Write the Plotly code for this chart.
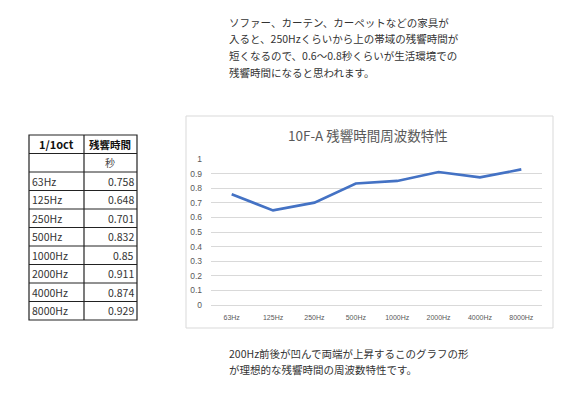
import plotly.graph_objects as go

# ---- data ----
bands = ["63Hz", "125Hz", "250Hz", "500Hz", "1000Hz", "2000Hz", "4000Hz", "8000Hz"]
table_bands = ["63Hz", "125Hz", "250Hz", "500Hz", "1000Hz", "2000Hz", "4000Hz", "8000Hz"]
rt_values = [0.758, 0.648, 0.701, 0.832, 0.85, 0.911, 0.874, 0.929]
rt_labels = ["0.758", "0.648", "0.701", "0.832", "0.85", "0.911", "0.874", "0.929"]
table_header = ["1/1oct", "残響時間"]
unit_label = "秒"
chart_title = "10F-A 残響時間周波数特性"
top_text = ["ソファー、カーテン、カーペットなどの家具が",
            "入ると、250Hzくらいから上の帯域の残響時間が",
            "短くなるので、0.6～0.8秒くらいが生活環境での",
            "残響時間になると思われます。"]
bottom_text = ["200Hz前後が凹んで両端が上昇するこのグラフの形",
               "が理想的な残響時間の周波数特性です。"]

W, H = 576, 394
OFF = 8  # page body margin offset
L, R, T, B = 211 - OFF, 542 - OFF, 159 - OFF, 305 - OFF
JP = "Noto Sans CJK JP"


def px(x):
    return (x - OFF - L) / (R - L)


def py(y):
    return (B - (y - OFF)) / (B - T)


fig = go.Figure()
fig.add_trace(go.Scatter(x=bands, y=rt_values, mode="lines",
                         line=dict(color="#4472C4", width=2.6),
                         hoverinfo="x+y", showlegend=False))

shapes = []
annotations = []

# chart border
shapes.append(dict(type="rect", xref="paper", yref="paper",
                   x0=px(186), x1=px(553), y0=py(328), y1=py(116),
                   line=dict(color="#d9d9d9", width=1), layer="below"))

# chart title
annotations.append(dict(text=chart_title, xref="paper", yref="paper",
                        x=px(368), y=py(135), showarrow=False,
                        xanchor="center", yanchor="middle",
                        font=dict(family=JP, size=13.5, color="#595959")))

# top paragraph
for i, line in enumerate(top_text):
    annotations.append(dict(text=line, xref="paper", yref="paper",
                            x=px(227), y=py(22 + i * 16.7), showarrow=False,
                            xanchor="left", yanchor="middle",
                            font=dict(family=JP, size=10.5, color="#333333")))

# bottom paragraph
for i, line in enumerate(bottom_text):
    annotations.append(dict(text=line, xref="paper", yref="paper",
                            x=px(227), y=py(353 + i * 16.5), showarrow=False,
                            xanchor="left", yanchor="middle",
                            font=dict(family=JP, size=10.5, color="#333333")))

# table
tx0, tx1, tdiv = 29, 137, 84
ty0 = 135
rh = 18.5
nrows = 2 + len(table_bands)
ty1 = ty0 + rh * nrows
lc = "#222222"
shapes.append(dict(type="rect", xref="paper", yref="paper",
                   x0=px(tx0), x1=px(tx1), y0=py(ty1), y1=py(ty0),
                   line=dict(color=lc, width=1.2)))
shapes.append(dict(type="line", xref="paper", yref="paper",
                   x0=px(tdiv), x1=px(tdiv), y0=py(ty1), y1=py(ty0),
                   line=dict(color=lc, width=1.2)))
for r in range(1, nrows):
    yy = ty0 + r * rh
    shapes.append(dict(type="line", xref="paper", yref="paper",
                       x0=px(tx0), x1=px(tx1), y0=py(yy), y1=py(yy),
                       line=dict(color=lc, width=1)))

annotations.append(dict(text="<b>" + table_header[0] + "</b>", xref="paper", yref="paper",
                        x=px((tx0 + tdiv) / 2), y=py(ty0 + rh / 2), showarrow=False,
                        xanchor="center", yanchor="middle",
                        font=dict(family=JP, size=11, color="#111111")))
annotations.append(dict(text="<b>" + table_header[1] + "</b>", xref="paper", yref="paper",
                        x=px((tdiv + tx1) / 2), y=py(ty0 + rh / 2), showarrow=False,
                        xanchor="center", yanchor="middle",
                        font=dict(family=JP, size=10.5, color="#111111")))
annotations.append(dict(text=unit_label, xref="paper", yref="paper",
                        x=px((tdiv + tx1) / 2), y=py(ty0 + rh * 1.5), showarrow=False,
                        xanchor="center", yanchor="middle",
                        font=dict(family=JP, size=10, color="#444444")))
for i, (b, v) in enumerate(zip(table_bands, rt_labels)):
    yc = ty0 + rh * (2.5 + i)
    annotations.append(dict(text=b, xref="paper", yref="paper",
                            x=px(tx0 + 1), y=py(yc), showarrow=False,
                            xanchor="left", yanchor="middle",
                            font=dict(family=JP, size=10.5, color="#333333")))
    annotations.append(dict(text=v, xref="paper", yref="paper",
                            x=px(tx1 - 1.5), y=py(yc), showarrow=False,
                            xanchor="right", yanchor="middle",
                            font=dict(family=JP, size=10.5, color="#333333")))

fig.update_layout(
    width=W, height=H,
    margin=dict(l=L, r=W - R, t=T, b=H - B, pad=0),
    paper_bgcolor="white", plot_bgcolor="white",
    shapes=shapes, annotations=annotations,
    xaxis=dict(type="category", range=[-0.5, len(bands) - 0.5],
               showgrid=False, zeroline=False,
               showline=False, ticks="", ticklabelstandoff=7,
               tickfont=dict(family="Liberation Sans", size=7, color="#595959")),
    yaxis=dict(range=[0, 1], dtick=0.1, showgrid=True, gridcolor="#d9d9d9",
               gridwidth=1, zeroline=True, zerolinecolor="#d9d9d9",
               zerolinewidth=1, showline=False, ticks="", ticklabelstandoff=8,
               tickfont=dict(family="Liberation Sans", size=8.5, color="#595959")),
    font=dict(family=JP),
)

fig.write_html("out.html")
